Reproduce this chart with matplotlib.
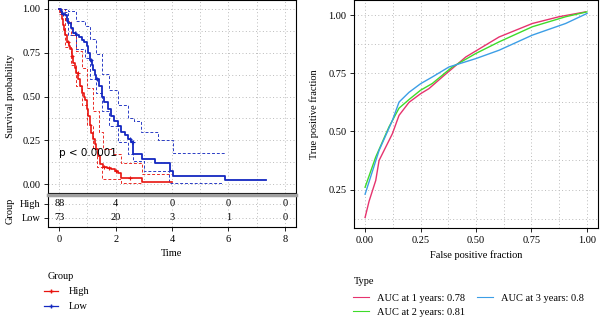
import matplotlib
matplotlib.use('Agg')
import matplotlib.pyplot as plt
from matplotlib.lines import Line2D
from matplotlib.ticker import MultipleLocator
import numpy as np

plt.rcParams['font.family'] = ['Liberation Serif', 'DejaVu Serif']
plt.rcParams['font.size'] = 7.5

# ── KM data ───────────────────────────────────────────────────────────
high_t = [0, 0.04, 0.08, 0.12, 0.17, 0.22, 0.28, 0.33, 0.38, 0.44,
          0.5, 0.55, 0.61, 0.67, 0.73, 0.8, 0.86, 0.91, 0.97, 1.03,
          1.08, 1.14, 1.2, 1.26, 1.32, 1.38, 1.44, 1.56, 1.7, 1.85,
          1.97, 2.09, 2.2, 2.93, 3.99]
high_s = [1.0, 0.98, 0.94, 0.91, 0.88, 0.85, 0.81, 0.79, 0.77, 0.73,
          0.69, 0.66, 0.635, 0.6, 0.56, 0.52, 0.5, 0.48, 0.43, 0.39,
          0.34, 0.29, 0.26, 0.23, 0.2, 0.16, 0.114, 0.10, 0.095, 0.085,
          0.075, 0.066, 0.038, 0.011, 0.011]
low_t = [0, 0.05, 0.1, 0.2, 0.27, 0.32, 0.4, 0.5, 0.6, 0.7,
         0.79, 0.88, 0.97, 1.03, 1.09, 1.15, 1.2, 1.26, 1.32, 1.4,
         1.5, 1.6, 1.73, 1.85, 1.95, 2.09, 2.2, 2.32, 2.44, 2.55,
         2.63, 2.93, 3.4, 3.93, 4.05, 5.88, 7.35]
low_s = [1.0, 0.985, 0.97, 0.966, 0.93, 0.92, 0.89, 0.86, 0.85, 0.84,
         0.824, 0.81, 0.786, 0.75, 0.71, 0.68, 0.65, 0.62, 0.6, 0.56,
         0.5, 0.47, 0.43, 0.39, 0.36, 0.33, 0.3, 0.28, 0.256, 0.24,
         0.17, 0.146, 0.123, 0.076, 0.047, 0.023, 0.023]

high_up_t = [0, 0.2, 0.4, 0.6, 0.8, 1.0, 1.2, 1.4, 1.55, 1.9, 2.2, 2.93, 3.99]
high_up_s = [1.0, 0.93, 0.85, 0.76, 0.66, 0.55, 0.42, 0.3, 0.2, 0.17, 0.12, 0.06, 0.06]
high_lo_t = [0, 0.2, 0.4, 0.6, 0.8, 1.0, 1.2, 1.35, 1.5, 2.2, 2.93]
high_lo_s = [0.97, 0.78, 0.68, 0.56, 0.45, 0.34, 0.2, 0.1, 0.03, 0.01, 0.002]
low_up_t = [0, 0.3, 0.6, 0.9, 1.1, 1.3, 1.5, 1.75, 2.1, 2.45, 2.65, 2.9, 3.5, 4.05, 5.88]
low_up_s = [1.0, 0.99, 0.93, 0.9, 0.83, 0.74, 0.63, 0.54, 0.45, 0.38, 0.36, 0.3, 0.255, 0.18, 0.18]
low_lo_t = [0, 0.3, 0.6, 0.9, 1.1, 1.3, 1.5, 1.75, 2.1, 2.45, 2.62, 3.0, 3.9, 5.8]
low_lo_s = [0.98, 0.85, 0.77, 0.72, 0.6, 0.52, 0.42, 0.33, 0.24, 0.17, 0.13, 0.075, 0.01, 0.01]

high_cens = [0.3, 0.46, 0.65, 1.6, 1.75, 2.0, 2.5]
low_cens = [0.15, 0.55, 1.12, 1.35, 2.5, 2.58, 2.62]

risk_times = [0, 2, 4, 6, 8]
risk_high = [88, 4, 0, 0, 0]
risk_low = [73, 20, 3, 1, 0]
groups = ['High', 'Low']

# ── ROC data ──────────────────────────────────────────────────────────
roc1_x = [0, 0.018, 0.048, 0.063, 0.123, 0.153, 0.198, 0.25, 0.288, 0.348, 0.454, 0.604, 0.754, 0.874, 0.994]
roc1_y = [0.13, 0.20, 0.289, 0.375, 0.49, 0.569, 0.625, 0.662, 0.684, 0.734, 0.82, 0.906, 0.964, 0.993, 1.014]
roc2_x = [0, 0.048, 0.108, 0.153, 0.198, 0.25, 0.303, 0.393, 0.499, 0.604, 0.754, 0.904, 1.0]
roc2_y = [0.26, 0.39, 0.52, 0.6, 0.637, 0.677, 0.706, 0.777, 0.835, 0.885, 0.95, 0.993, 1.014]
roc3_x = [0, 0.063, 0.123, 0.153, 0.198, 0.25, 0.303, 0.378, 0.499, 0.604, 0.754, 0.904, 1.0]
roc3_y = [0.23, 0.418, 0.547, 0.626, 0.668, 0.705, 0.734, 0.777, 0.813, 0.849, 0.914, 0.964, 1.007]
roc_labels = ['AUC at 1 years: 0.78', 'AUC at 2 years: 0.81', 'AUC at 3 years: 0.8']

RED = '#E8140F'
BLUE = '#1428C0'
ROC_COLORS = ['#E6336E', '#3EDB2A', '#3C9EE6']
GRID = dict(color='#BBBBBB', linestyle=(0, (1, 2.5)), linewidth=0.7)


def style_axis(ax):
    ax.tick_params(direction='out', length=3, width=0.6, pad=2.5, labelsize=7.5)
    for sp in ax.spines.values():
        sp.set_linewidth(0.8)


def surv_at(t, ts, ss):
    idx = np.searchsorted(ts, t, side='right') - 1
    return np.array(ss)[idx]


fig = plt.figure(figsize=(6.0, 3.17), dpi=100)

# ── KM plot ───────────────────────────────────────────────────────────
ax = fig.add_axes([0.08, 0.391, 0.4133, 0.609])
for ts, ss, c in [(high_up_t, high_up_s, RED), (high_lo_t, high_lo_s, RED),
                  (low_up_t, low_up_s, BLUE), (low_lo_t, low_lo_s, BLUE)]:
    ax.plot(ts, ss, drawstyle='steps-post', color=c, lw=0.7,
            linestyle=(0, (3, 2)), alpha=0.9)
ax.plot(high_t, high_s, drawstyle='steps-post', color=RED, lw=1.2)
ax.plot(low_t, low_s, drawstyle='steps-post', color=BLUE, lw=1.3)
ax.plot(high_cens, surv_at(high_cens, high_t, high_s), '+', color=RED, ms=3, mew=0.8)
ax.plot(low_cens, surv_at(low_cens, low_t, low_s), '+', color=BLUE, ms=3, mew=0.8)
ax.text(0, 0.18, 'p < 0.0001', family='DejaVu Sans', fontsize=7.5, va='center')
ax.set_xlim(-0.4, 8.4)
ax.set_ylim(-0.05, 1.05)
ax.set_xticks([0, 2, 4, 6, 8])
ax.set_xticklabels([])
ax.set_yticks([0, 0.25, 0.5, 0.75, 1.0])
ax.set_yticklabels(['0.00', '0.25', '0.50', '0.75', '1.00'])
ax.xaxis.set_minor_locator(MultipleLocator(1))
ax.yaxis.set_minor_locator(MultipleLocator(0.125))
ax.tick_params(which='minor', length=0)
ax.grid(True, which='both', **GRID)
ax.set_axisbelow(True)
ax.set_ylabel('Survival probability', fontsize=7.5, labelpad=5)
style_axis(ax)

# ── risk table ────────────────────────────────────────────────────────
axr = fig.add_axes([0.08, 0.284, 0.4133, 0.101])
for y, counts in [(2, risk_high), (1, risk_low)]:
    for t, n in zip(risk_times, counts):
        axr.text(t, y, str(n), ha='center', va='center', fontsize=7.5)
axr.set_xlim(-0.4, 8.4)
axr.set_ylim(0.357, 2.643)
axr.set_xticks(risk_times)
axr.set_yticks([2, 1])
axr.set_yticklabels(groups)
axr.xaxis.set_minor_locator(MultipleLocator(1))
axr.tick_params(which='minor', length=0)
axr.grid(True, which='both', **GRID)
axr.set_xlabel('Time', fontsize=7.5, labelpad=4)
axr.set_ylabel('Group', fontsize=7.5, labelpad=4)
style_axis(axr)
axr.spines['top'].set_color('#A0A0A0')
axr.spines['top'].set_linewidth(2.5)

kh = [Line2D([0], [0], color=RED, lw=0.9, marker='+', ms=3),
      Line2D([0], [0], color=BLUE, lw=0.9, marker='+', ms=3)]
fig.text(0.08, 0.128, 'Group', fontsize=7.5, va='center')
fig.legend(kh, groups, loc='upper left',
           bbox_to_anchor=(0.074, 0.095), frameon=False, fontsize=7.5,
           handlelength=1.3, handletextpad=1.0,
           labelspacing=0.55, borderaxespad=0, borderpad=0)

# ── ROC plot ──────────────────────────────────────────────────────────
ax2 = fig.add_axes([0.59, 0.281, 0.4067, 0.719])
for xs, ys, c in zip([roc1_x, roc2_x, roc3_x], [roc1_y, roc2_y, roc3_y], ROC_COLORS):
    ax2.plot(xs, ys, color=c, lw=1.0)
ax2.set_xlim(-0.05, 1.05)
ax2.set_ylim(0.085, 1.065)
ax2.set_xticks([0, 0.25, 0.5, 0.75, 1.0])
ax2.set_xticklabels(['0.00', '0.25', '0.50', '0.75', '1.00'])
ax2.set_yticks([0.25, 0.5, 0.75, 1.0])
ax2.set_yticklabels(['0.25', '0.50', '0.75', '1.00'])
ax2.xaxis.set_minor_locator(MultipleLocator(0.125))
ax2.yaxis.set_minor_locator(MultipleLocator(0.125))
ax2.tick_params(which='minor', length=0)
ax2.grid(True, which='both', **GRID)
ax2.set_axisbelow(True)
ax2.set_xlabel('False positive fraction', fontsize=7.5, labelpad=4)
ax2.set_ylabel('True positive fraction', fontsize=7.5, labelpad=7)
style_axis(ax2)

rh = [Line2D([0], [0], color=c, lw=0.8) for c in ROC_COLORS]
fig.text(0.59, 0.113, 'Type', fontsize=7.5, va='center')
fig.legend(rh, roc_labels, loc='upper left',
           bbox_to_anchor=(0.588, 0.074), frameon=False, fontsize=7.5,
           ncol=2, handlelength=1.6, handletextpad=0.75,
           columnspacing=1.1, labelspacing=0.45,
           borderaxespad=0, borderpad=0)

fig.savefig('out.png', dpi=100)
